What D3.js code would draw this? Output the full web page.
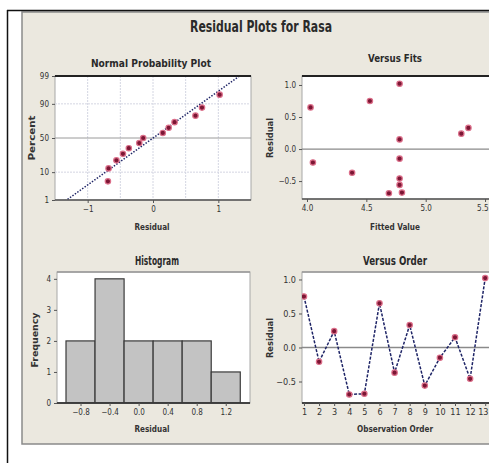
<!DOCTYPE html>
<html>
<head>
<meta charset="utf-8">
<script src="https://d3js.org/d3.v7.min.js"></script>
<style>
  body { margin: 0; background: #fff; }
  text { font-family: "DejaVu Sans Condensed", "DejaVu Sans", sans-serif; fill: #333; }
  .tick { font-size: 8px; }
  .atitle { font-size: 8px; font-weight: bold; }
  .sub { font-weight: bold; fill: #2a2a2a; }
</style>
</head>
<body>
<script>
var residuals = [0.75, -0.21, 0.24, -0.69, -0.68, 0.65, -0.37, 0.33, -0.56, -0.15, 0.15, -0.46, 1.02];
var fitted = [4.53, 4.05, 5.30, 4.69, 4.80, 4.03, 4.38, 5.36, 4.78, 4.78, 4.78, 4.78, 4.78];
var observation = [1, 2, 3, 4, 5, 6, 7, 8, 9, 10, 11, 12, 13];
// plotting positions (percent) of the sorted residuals
var percents = [5.2, 12.7, 20.1, 27.6, 35.1, 42.5, 50, 57.5, 64.9, 72.4, 79.9, 87.3, 94.8];
var percentTicks = [1, 10, 50, 90, 99];
var binEdges = [-1.0, -0.6, -0.2, 0.2, 0.6, 1.0, 1.4];
var histTicks = [-0.8, -0.4, 0.0, 0.4, 0.8, 1.2];
var residTicks = [-0.5, 0.0, 0.5, 1.0];
var fitTicks = [4.0, 4.5, 5.0, 5.5];

var width = 489, height = 463;
var svg = d3.select("body").append("svg").attr("width", width).attr("height", height);

// inverse normal cdf (Acklam)
function qnorm(p) {
  var a = [-39.69683028665376, 220.9460984245205, -275.9285104469687, 138.3577518672690, -30.66479806614716, 2.506628277459239];
  var b = [-54.47609879822406, 161.5858368580409, -155.6989798598866, 66.80131188771972, -13.28068155288572];
  var c = [-0.007784894002430293, -0.3223964580411365, -2.400758277161838, -2.549732539343734, 4.374664141464968, 2.938163982698783];
  var d = [0.007784695709041462, 0.3224671290700398, 2.445134137142996, 3.754408661907416];
  var q, r;
  if (p < 0.02425) {
    q = Math.sqrt(-2 * Math.log(p));
    return (((((c[0]*q+c[1])*q+c[2])*q+c[3])*q+c[4])*q+c[5]) / ((((d[0]*q+d[1])*q+d[2])*q+d[3])*q+1);
  } else if (p > 1 - 0.02425) {
    q = Math.sqrt(-2 * Math.log(1 - p));
    return -(((((c[0]*q+c[1])*q+c[2])*q+c[3])*q+c[4])*q+c[5]) / ((((d[0]*q+d[1])*q+d[2])*q+d[3])*q+1);
  }
  q = p - 0.5; r = q * q;
  return (((((a[0]*r+a[1])*r+a[2])*r+a[3])*r+a[4])*r+a[5])*q / (((((b[0]*r+b[1])*r+b[2])*r+b[3])*r+b[4])*r+1);
}

// frame + minitab panel
svg.append("rect").attr("x", 22).attr("y", 12).attr("width", 480).attr("height", 432)
  .attr("fill", "#ebe8df").attr("stroke", "#8a8a8a").attr("stroke-width", 1.5);
svg.append("line").attr("x1", 7).attr("x2", 489).attr("y1", 10.5).attr("y2", 10.5).attr("stroke", "#111").attr("stroke-width", 1.5);
svg.append("line").attr("x1", 7.5).attr("x2", 7.5).attr("y1", 10).attr("y2", 463).attr("stroke", "#111").attr("stroke-width", 1.5);

svg.append("text").attr("x", 261).attr("y", 32).attr("text-anchor", "middle")
  .attr("class", "sub").style("font-size", "15px")
  .attr("textLength", 142).attr("lengthAdjust", "spacingAndGlyphs")
  .text("Residual Plots for Rasa");

var clipId = 0;
function panel(x0, x1, y0, y1, darkTop) {
  var g = svg.append("g");
  g.append("rect").attr("x", x0).attr("y", y0).attr("width", x1 - x0).attr("height", y1 - y0)
    .attr("fill", "#fff").attr("stroke", "#a8a8a8");
  clipId++;
  svg.append("clipPath").attr("id", "c" + clipId).append("rect")
    .attr("x", x0).attr("y", y0).attr("width", x1 - x0).attr("height", y1 - y0);
  var inner = g.append("g").attr("clip-path", "url(#c" + clipId + ")");
  g.append("line").attr("x1", x0).attr("x2", x1).attr("y1", y1).attr("y2", y1).attr("stroke", "#555").attr("stroke-width", 1.3);
  g.append("line").attr("x1", x0).attr("x2", x1).attr("y1", y0).attr("y2", y0)
    .attr("stroke", darkTop ? "#222" : "#999").attr("stroke-width", darkTop ? 2 : 1.3);
  return {g: g, inner: inner};
}

function subTitle(txt, x, y, size, len) {
  svg.append("text").attr("x", x).attr("y", y).attr("text-anchor", "middle")
    .attr("class", "sub").style("font-size", size + "px")
    .attr("textLength", len).attr("lengthAdjust", "spacingAndGlyphs").text(txt);
}
function axisTitle(txt, x, y, len, rotate) {
  var t = svg.append("text").attr("class", "atitle").attr("text-anchor", "middle")
    .attr("textLength", len).attr("lengthAdjust", "spacingAndGlyphs").text(txt);
  if (rotate) t.attr("transform", "translate(" + x + "," + y + ") rotate(-90)");
  else t.attr("x", x).attr("y", y);
}

function drawAxes(p, xs, ys, xt, yt, xfmt, yfmt, fs) {
  var ax = d3.axisBottom(xs).tickValues(xt).tickSize(3).tickPadding(3).tickFormat(xfmt);
  var ay = d3.axisLeft(ys).tickValues(yt).tickSize(3).tickPadding(3).tickFormat(yfmt);
  var gx = p.g.append("g").attr("transform", "translate(0," + ys.range()[0] + ")").call(ax);
  var gy = p.g.append("g").attr("transform", "translate(" + xs.range()[0] + ",0)").call(ay);
  [gx, gy].forEach(function(a) {
    a.select(".domain").remove();
    a.selectAll("line").attr("stroke", "#555");
    a.selectAll("text").attr("class", "tick").style("font-size", (fs || 8) + "px").attr("fill", "#444");
  });
  // keep labels at the window's right edge inside it
  gx.selectAll(".tick").each(function(d) {
    if (xs(d) > width - 8) d3.select(this).select("text").attr("text-anchor", "end").attr("x", width - 1 - xs(d));
  });
}

var dot = function(sel) {
  sel.attr("r", 2.7).attr("fill", "#7c1634").attr("stroke", "#dc6f8a").attr("stroke-width", 1.2);
};

// ---- Normal Probability Plot
var npX = d3.scaleLinear().domain([-1.5, 1.5]).range([55, 251]);
var npY = d3.scaleLinear().domain([qnorm(0.01), qnorm(0.99)]).range([200, 76]);
var np = panel(55, 251, 76, 200, true);
[-1, -0.5, 0, 0.5, 1].forEach(function(v) {
  np.inner.append("line").attr("x1", npX(v)).attr("x2", npX(v)).attr("y1", 76).attr("y2", 200)
    .attr("stroke", "#d4d6e2").attr("stroke-dasharray", "2,1");
});
[10, 50, 90].forEach(function(v) {
  np.inner.append("line").attr("x1", 55).attr("x2", 251).attr("y1", npY(qnorm(v / 100))).attr("y2", npY(qnorm(v / 100)))
    .attr("stroke", v == 50 ? "#9a9a9a" : "#d4d6e2").attr("stroke-dasharray", v == 50 ? null : "2,1");
});
var mu = d3.mean(residuals), sd = d3.deviation(residuals);
np.inner.append("line")
  .attr("x1", npX(mu + sd * qnorm(0.001))).attr("y1", npY(qnorm(0.001)))
  .attr("x2", npX(mu + sd * qnorm(0.999))).attr("y2", npY(qnorm(0.999)))
  .attr("stroke", "#1e2466").attr("stroke-width", 1.5).attr("stroke-dasharray", "1.5,1.5");
var sorted = d3.sort(residuals);
np.inner.selectAll("circle").data(sorted).enter().append("circle")
  .attr("cx", function(d) { return npX(d); })
  .attr("cy", function(d, i) { return npY(qnorm(percents[i] / 100)); })
  .call(dot);
drawAxes(np, npX, npY, [-1, 0, 1], percentTicks.map(function(p) { return qnorm(p / 100); }),
  d3.format("d"), function(d, i) { return percentTicks[i]; });
subTitle("Normal Probability Plot", 151, 67, 11, 120);
axisTitle("Residual", 152, 230, 35);
axisTitle("Percent", 35, 138, 45, true);

// ---- Versus Fits
var vfX = d3.scaleLinear().domain([3.958, 5.626]).range([302, 500]);
var vfY = d3.scaleLinear().domain([-0.78, 1.14]).range([199, 76]);
var vf = panel(302, 500, 76, 199, true);
vf.inner.append("line").attr("x1", 302).attr("x2", 500).attr("y1", vfY(0)).attr("y2", vfY(0))
  .attr("stroke", "#8a8a8a").attr("stroke-width", 1.3);
vf.inner.selectAll("circle").data(residuals).enter().append("circle")
  .attr("cx", function(d, i) { return vfX(fitted[i]); })
  .attr("cy", function(d) { return vfY(d); })
  .call(dot);
drawAxes(vf, vfX, vfY, fitTicks, residTicks, d3.format(".1f"), d3.format(".1f"));
subTitle("Versus Fits", 395, 62, 10, 54);
axisTitle("Fitted Value", 395, 230, 50);
axisTitle("Residual", 273, 138, 40, true);

// ---- Histogram
var hX = d3.scaleLinear().domain([-1.124, 1.534]).range([57, 250]);
var hY = d3.scaleLinear().domain([0, 4.22]).range([403, 272]);
var bins = d3.bin().domain([binEdges[0], binEdges[binEdges.length - 1]]).thresholds(binEdges.slice(1, -1))(residuals);
var hp = panel(57, 250, 272, 403, false);
hp.inner.selectAll("rect.bar").data(bins).enter().append("rect").attr("class", "bar")
  .attr("x", function(d) { return hX(d.x0); })
  .attr("width", function(d) { return hX(d.x1) - hX(d.x0); })
  .attr("y", function(d) { return hY(d.length); })
  .attr("height", function(d) { return hY(0) - hY(d.length); })
  .attr("fill", "#c3c3c3").attr("stroke", "#3a3a3a").attr("stroke-width", 1.2);
hp.g.append("line").attr("x1", 57).attr("x2", 250).attr("y1", 403).attr("y2", 403).attr("stroke", "#333").attr("stroke-width", 1.5);
drawAxes(hp, hX, hY, histTicks, [0, 1, 2, 3, 4], d3.format(".1f"), d3.format("d"));
subTitle("Histogram", 157, 265, 12, 44);
axisTitle("Residual", 152, 432, 35);
axisTitle("Frequency", 38, 340, 55, true);

// ---- Versus Order
var voX = d3.scaleLinear().domain([0.87, 13.98]).range([302, 500]);
var voY = d3.scaleLinear().domain([-0.816, 1.11]).range([403, 272]);
var vo = panel(302, 500, 272, 403, false);
vo.inner.append("line").attr("x1", 302).attr("x2", 500).attr("y1", voY(0)).attr("y2", voY(0))
  .attr("stroke", "#8a8a8a").attr("stroke-width", 1.3);
vo.inner.append("path").datum(residuals)
  .attr("d", d3.line().x(function(d, i) { return voX(observation[i]); }).y(function(d) { return voY(d); }))
  .attr("fill", "none").attr("stroke", "#1e2466").attr("stroke-width", 1.5).attr("stroke-dasharray", "3,1.5");
vo.inner.selectAll("circle").data(residuals).enter().append("circle")
  .attr("cx", function(d, i) { return voX(observation[i]); })
  .attr("cy", function(d) { return voY(d); })
  .call(dot);
vo.g.append("line").attr("x1", 302).attr("x2", 500).attr("y1", 403).attr("y2", 403).attr("stroke", "#333").attr("stroke-width", 1.5);
drawAxes(vo, voX, voY, observation, residTicks, d3.format("d"), d3.format(".1f"), 9);
subTitle("Versus Order", 395, 265, 12, 64);
axisTitle("Observation Order", 395, 432, 76);
axisTitle("Residual", 273, 338, 40, true);
</script>
</body>
</html>
